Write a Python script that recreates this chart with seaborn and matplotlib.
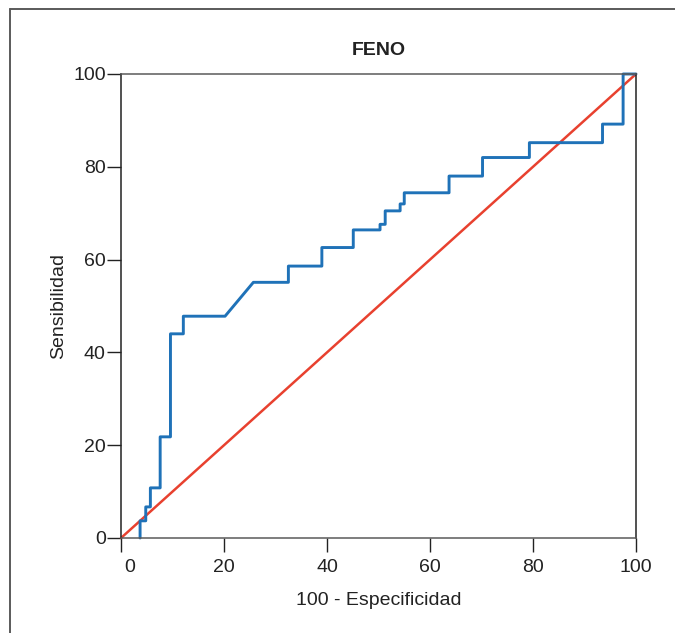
import numpy as np
import pandas as pd
import matplotlib
matplotlib.use("Agg")
import matplotlib.pyplot as plt
import matplotlib.transforms as mtransforms
from matplotlib.lines import Line2D
import seaborn as sns

# ROC curve for FENO (step path)
fpr = [3.7, 3.7, 4.8, 4.8, 5.7, 5.7, 7.6, 7.6, 9.6, 9.6, 12.1, 12.1, 20.2, 25.7,
       32.5, 32.5, 39.0, 39.0, 45.1, 45.1, 50.3, 50.3, 51.3, 51.3, 54.2, 54.2,
       55.0, 55.0, 63.7, 63.7, 70.2, 70.2, 79.3, 79.3, 93.5, 93.5, 97.5, 97.5, 100.0]
sens = [0.0, 3.7, 3.7, 6.7, 6.7, 10.8, 10.8, 21.8, 21.8, 44.0, 44.0, 47.8, 47.8, 55.1,
        55.1, 58.6, 58.6, 62.6, 62.6, 66.4, 66.4, 67.6, 67.6, 70.5, 70.5, 72.0,
        72.0, 74.4, 74.4, 78.0, 78.0, 82.0, 82.0, 85.2, 85.2, 89.2, 89.2, 100.0, 100.0]
ref_x = [0, 100]
ref_y = [0, 100]
ticks = [0, 20, 40, 60, 80, 100]

sns.set_theme(style="white")
plt.rcParams["font.family"] = ["Liberation Sans", "DejaVu Sans"]


def main():
    fig = plt.figure(figsize=(6.75, 6.33), dpi=100)
    ax = fig.add_axes([0.1793, 0.1501, 0.7629, 0.7330])

    roc = pd.DataFrame({"x": fpr, "y": sens})
    sns.lineplot(x=ref_x, y=ref_y, ax=ax, color="#e8412f", linewidth=1.8,
                 estimator=None, sort=False, clip_on=False)
    sns.lineplot(data=roc, x="x", y="y", ax=ax, color="#1f72b8", linewidth=2.1,
                 estimator=None, sort=False, clip_on=False)

    ax.set_xlim(0, 100)
    ax.set_ylim(0, 100)
    ax.set_xticks(ticks)
    ax.set_yticks(ticks)
    ax.tick_params(axis="both", direction="out", length=10, width=1.0,
                   labelsize=14, colors="#222222", bottom=True, left=True)
    ax.tick_params(axis="x", pad=5)
    ax.tick_params(axis="y", pad=1)
    for s in ["left", "right"]:
        ax.spines[s].set_color("#222222")
        ax.spines[s].set_linewidth(1.1)
    for s in ["top", "bottom"]:
        ax.spines[s].set_color("#5a5a5a")
        ax.spines[s].set_linewidth(1.1)

    # first x label sits a bit to the right of its tick in the original
    lbl = ax.get_xticklabels()[0]
    lbl.set_transform(lbl.get_transform() + mtransforms.ScaledTranslation(9 / 100, 0, fig.dpi_scale_trans))

    ax.set_title("FENO", fontsize=14, fontweight="bold", color="#222222", pad=14)
    ax.set_xlabel("100 - Especificidad", fontsize=14, color="#222222", labelpad=12)
    ax.set_ylabel("Sensibilidad", fontsize=14, color="#222222", labelpad=4)

    # outer frame (top and left edges visible)
    fig.add_artist(Line2D([10 / 675, 10 / 675], [0, 1 - 9 / 633], transform=fig.transFigure,
                          color="#5a5a5a", linewidth=1.4))
    fig.add_artist(Line2D([10 / 675, 1], [1 - 9 / 633, 1 - 9 / 633], transform=fig.transFigure,
                          color="#5a5a5a", linewidth=1.4))

    fig.savefig("out.png", dpi=100)


if __name__ == "__main__":
    main()
